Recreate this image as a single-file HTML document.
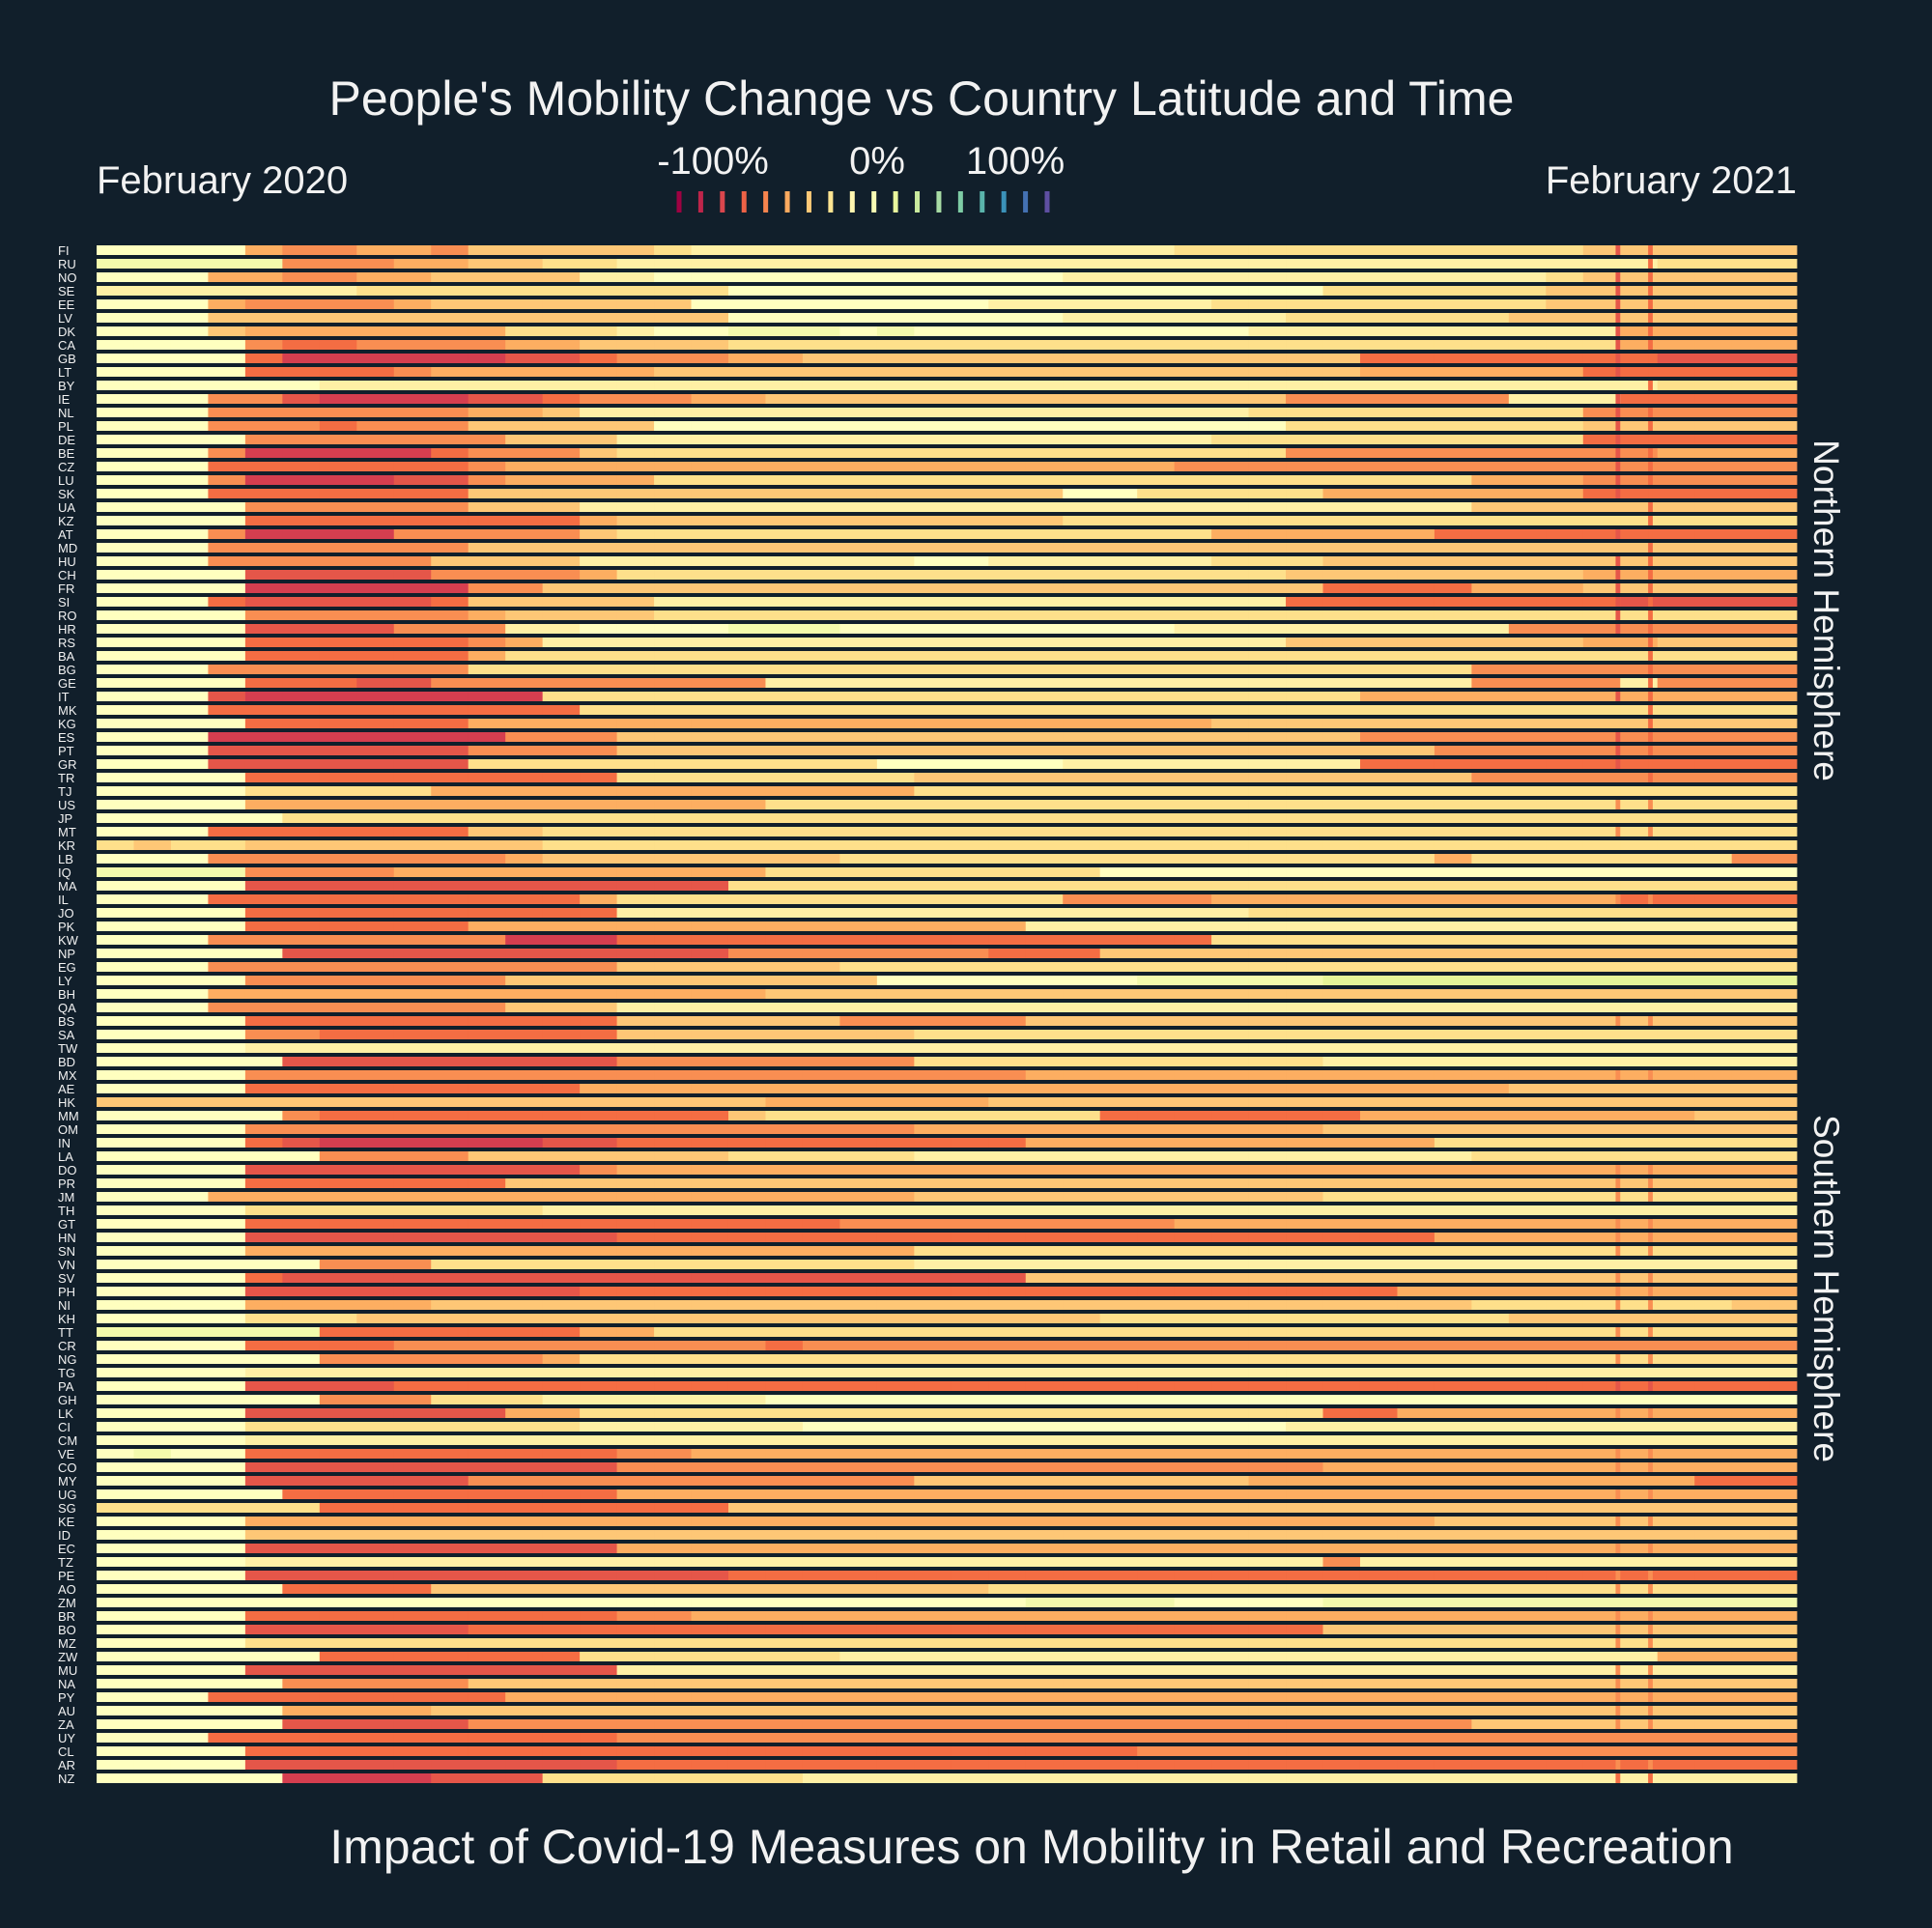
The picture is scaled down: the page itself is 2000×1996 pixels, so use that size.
<!DOCTYPE html>
<html><head><meta charset="utf-8"><style>
html,body{margin:0;padding:0;background:#111f2b;}
svg{display:block;}
text{font-family:"Liberation Sans",Arial,sans-serif;fill:#f2f2f2;}
</style></head><body>
<svg id="chart" width="2000" height="1996" viewBox="0 0 2000 1996" xmlns="http://www.w3.org/2000/svg">
<rect x="0" y="0" width="2000" height="1996" fill="#111f2b"/>
<text x="954" y="119" font-size="50" text-anchor="middle">People's Mobility Change vs Country Latitude and Time</text>
<text x="100" y="200" font-size="40">February 2020</text>
<text x="1860" y="200" font-size="40" text-anchor="end">February 2021</text>
<g id="legend"></g>
<g id="rows"></g>
<g id="labels"></g>
<text transform="translate(1878,632) rotate(90)" font-size="37" text-anchor="middle">Northern Hemisphere</text>
<text transform="translate(1878,1334) rotate(90)" font-size="37" text-anchor="middle">Southern Hemisphere</text>
<text x="1068" y="1929" font-size="50" text-anchor="middle">Impact of Covid-19 Measures on Mobility in Retail and Recreation</text>
</svg>
<script>
// Country codes (north to south)
const countries = ["FI","RU","NO","SE","EE","LV","DK","CA","GB","LT","BY","IE","NL","PL","DE","BE","CZ","LU","SK","UA","KZ","AT","MD","HU","CH","FR","SI","RO","HR","RS","BA","BG","GE","IT","MK","KG","ES","PT","GR","TR","TJ","US","JP","MT","KR","LB","IQ","MA","IL","JO","PK","KW","NP","EG","LY","BH","QA","BS","SA","TW","BD","MX","AE","HK","MM","OM","IN","LA","DO","PR","JM","TH","GT","HN","SN","VN","SV","PH","NI","KH","TT","CR","NG","TG","PA","GH","LK","CI","CM","VE","CO","MY","UG","SG","KE","ID","EC","TZ","PE","AO","ZM","BR","BO","MZ","ZW","MU","NA","PY","AU","ZA","UY","CL","AR","NZ"];
// Mobility change per 8-day bin, code char: '0'=-100% ... 'A'=0% ... 'C'=+20%
const mobility = [
"AAAA65566577"+"777899999999"+"999998888888"+"8888777777",
"BBBBB5556677"+"889999999999"+"999999999999"+"9999998888",
"AAA665566777"+"799AAAAAAAAA"+"AA9999999999"+"9998777777",
"999999988888"+"88888AAAAAAA"+"AAAAAAAAA888"+"8887777777",
"AAA655556777"+"7777AAAAAAAA"+"999999888888"+"8887777777",
"AAA777777777"+"77777AAAAAAA"+"AA9999998888"+"8877777777",
"AAA766666668"+"889AABBBABAA"+"AAAAAAA99999"+"9999966666",
"AAAA54455556"+"677778888888"+"888888888888"+"8888866666",
"AAAA42222223"+"345556677777"+"777777777744"+"4444443333",
"AAAA44445666"+"666777777777"+"777777777766"+"6666444444",
"AAAAAA999999"+"999999999999"+"999999999999"+"9999998888",
"AAA553222233"+"455566777777"+"777777775555"+"5599944444",
"AAA555555566"+"799999999999"+"999999988888"+"8888555555",
"AAA555455577"+"777AAAAAAAAA"+"AAAAAAAA8888"+"8888777777",
"AAAA55555557"+"779999999999"+"999999888888"+"8888444444",
"AAA522222455"+"578888888888"+"888888885555"+"5555556666",
"AAA444444456"+"666666666666"+"666665555555"+"5555555555",
"AAA522223356"+"666888888888"+"888888888888"+"8666555555",
"AAA444444477"+"777777777777"+"77AA88888666"+"6666444444",
"AAAA55555577"+"799999999999"+"999999999999"+"9777777777",
"AAAA44444444"+"467777777777"+"778888888888"+"8888888888",
"AAA522225555"+"578888888888"+"888888666666"+"4444444444",
"AAA555555577"+"777777777777"+"777777777777"+"7777777777",
"AAA555555777"+"7999999999AA"+"999999888777"+"7777777777",
"AAAA33333555"+"568888888888"+"888888887777"+"7777666666",
"AAAA22222255"+"777777777777"+"777777777444"+"4666777777",
"AAA433333477"+"777999999999"+"999999994444"+"4444433333",
"AAAA55555567"+"777888888888"+"888888888888"+"8888888888",
"AAAA33335559"+"9AAAABBBAAAA"+"AAAAA9999999"+"9955555555",
"AAAA44444456"+"999999999999"+"999999997777"+"7777667777",
"AAAA44444468"+"888888888888"+"888888888888"+"8888888888",
"AAA555555588"+"888888888888"+"888888888888"+"8555555555",
"AAAA44433555"+"555555999999"+"999999999999"+"9555595555",
"AAA322222222"+"888888888888"+"888888888866"+"6666666666",
"AAA444444444"+"488888888888"+"888888888888"+"8888888888",
"AAAA44444466"+"666666666666"+"666666777777"+"7777777777",
"AAA222222225"+"557777777777"+"777777777755"+"5555555555",
"AAA333333355"+"557777777777"+"777777777777"+"5555555555",
"AAA333333388"+"888888888AAA"+"AA9999999944"+"4444444444",
"AAAA44444444"+"448888888877"+"777777777777"+"7555555555",
"AAAA88888666"+"666666666688"+"888888888888"+"8888888888",
"AAAA66666666"+"666666888888"+"888888888888"+"8888888888",
"AAAAA8888888"+"888888888888"+"888888888888"+"8888888888",
"AAA444444477"+"888888888888"+"888888888888"+"8888888888",
"878877777777"+"888888888888"+"888888888888"+"8888888888",
"AAA555555556"+"777777778888"+"888888888888"+"6888888855",
"BBBB55556666"+"666666888888"+"888AAAAAAAAA"+"AAAAAAAAAA",
"AAAA33333333"+"333338888888"+"888888888888"+"8888888888",
"AAA444444444"+"468888888888"+"885555666666"+"6666644444",
"AAAA44444444"+"449999999999"+"999999988888"+"8888888888",
"AAAA44444466"+"666666666666"+"699999999999"+"9999999999",
"AAA555555552"+"224444444444"+"444444888888"+"8888888888",
"AAAAA3333333"+"333335555555"+"444777777777"+"7777777777",
"AAA555555555"+"557777778888"+"888888888888"+"8888888888",
"AAAA55555557"+"777777777AAA"+"AAAABBBBBCCC"+"CCCCCCCCCC",
"AAA666666666"+"666666777777"+"777777777777"+"7777777777",
"AAA555555557"+"779999999999"+"999999999999"+"9999999999",
"AAAA44444444"+"447777775555"+"577777777777"+"7777777777",
"AAAA55444444"+"447777777788"+"888888888888"+"8888888888",
"AAAA99999999"+"999999999999"+"999999999999"+"9999999999",
"AAAAA3333333"+"335555555588"+"888888888999"+"9999999999",
"AAAA55555555"+"555555555555"+"566666666666"+"6666666666",
"AAAA44444444"+"466666666666"+"666666666666"+"6677777777",
"777777777777"+"777777666666"+"777777777777"+"7777777777",
"AAAAA5444444"+"444447888888"+"888444444466"+"6666666777",
"AAAA55555555"+"555555555566"+"666666666777"+"7777777777",
"AAAA43222222"+"334444444444"+"466666666666"+"8888888888",
"AAAAAA555577"+"777778888899"+"999999999999"+"9888888888",
"AAAA33333333"+"356666666666"+"666666666666"+"6666666666",
"AAAA44444447"+"777777777777"+"777777777777"+"7777777777",
"AAA666666666"+"666666666677"+"777777777888"+"8888888888",
"AAAA88888888"+"999999999999"+"999999999999"+"9999999999",
"AAAA44444444"+"444444445555"+"555556666666"+"6666666666",
"AAAA33333333"+"334444444444"+"444444444444"+"6666666666",
"AAAA66666666"+"666666666688"+"888888888888"+"8888888888",
"AAAAAA555888"+"888888888899"+"999999999999"+"9999999999",
"AAAA43333333"+"333333333333"+"377777777777"+"7777777777",
"AAAA33333333"+"344444444444"+"444444444446"+"6666666666",
"AAAA66666777"+"777777777777"+"777777777777"+"7888888877",
"AAAA88877777"+"777777777777"+"777888888888"+"8877777777",
"BBBBBB444444"+"466888888888"+"888888888888"+"8888888888",
"AAAA44445555"+"555555455555"+"555555555555"+"5555555555",
"AAAAAA555555"+"688888888888"+"888888888888"+"8888888888",
"AAAA99999999"+"999999999999"+"999999999999"+"9999999999",
"AAAA33334444"+"444444444444"+"444444444444"+"4444444444",
"AAAAAA555888"+"999999AAAAAA"+"AAAAAAAAAAAA"+"AAAAAAAAAA",
"AAAA33333336"+"688888888888"+"888888888446"+"6666666666",
"AAAA88888888"+"8999999AAAAA"+"AAAAAAAA9999"+"9999999999",
"AAAA99999999"+"999999999999"+"999999999999"+"9999999999",
"ABAA44444444"+"445566666666"+"666666666666"+"6666666666",
"AAAA33333333"+"335555555555"+"555555555666"+"6666666666",
"AAAA33333355"+"555555555577"+"777777766666"+"6666666444",
"AAAAA4444444"+"446666666666"+"666666666666"+"6666666666",
"888888444444"+"444447777777"+"777777777777"+"7777777777",
"AAAA66666666"+"666666666666"+"666666666666"+"7777777777",
"AAAA77777777"+"777777777777"+"777777777777"+"7777777777",
"AAAA33333333"+"336666666666"+"666666666666"+"6666666666",
"AAAA99999999"+"999999999999"+"999999999599"+"9999999999",
"AAAA33333333"+"333334444444"+"444444444444"+"4444444444",
"AAAAA4444777"+"777777777777"+"888888888888"+"8888888888",
"AAAAAAAAAAAA"+"AAAAAAAAAAAA"+"ABBBBAAAABBB"+"BBBBBBBBBB",
"AAAA44444444"+"445566666666"+"666666666666"+"6666666666",
"AAAA33333344"+"444444444444"+"444444444777"+"7777777777",
"AAAA88888888"+"888888888888"+"888888888888"+"8888888888",
"AAAAAA444444"+"488888889999"+"999999999999"+"9999996666",
"AAAA33333333"+"339999999999"+"999999999999"+"9999999999",
"AAAAA5555577"+"777777777777"+"777777777777"+"7777777777",
"AAA444444446"+"666666666666"+"666666666666"+"6666666666",
"AAAAA6666777"+"777777777777"+"777777777777"+"7777777777",
"AAAAA3333355"+"555555555555"+"555555555555"+"5777777777",
"AAA444444444"+"445555555555"+"555555555555"+"5555555555",
"AAAA44444444"+"444444444444"+"444455555555"+"5555555555",
"AAAA33333333"+"334444444444"+"444444444444"+"4444444444",
"AAAAA2222333"+"888888899999"+"999999999999"+"9999999999"
];
// Holiday dips (day index) and per-row value at those days ('.' = no dip)
const holidayDays = [327, 334];
const holidayA = "3.33333333"+".33333333."+".3.333333."+"...3..333."+".5.5....5."+".......5.."+".5......55"+"5.555.555."+"555.3.5..5"+"5.5.5.5.55"+".555.55555"+"5554";
const holidayB = "4444444444"+"4444444444"+"4444444444"+"4444444444"+".5.5....5."+".......5.."+".5......55"+"5.555.555."+"555.3.5..5"+"5.5.5.5.55"+".555.55555"+"5554";
const legendLabels = ["-100%","0%","100%"];
const legendLabelX = [738,908,1051];

const CODES = "0123456789ABC";
const NDAYS = 366, BIN = 8, NBINS = 46;
const X0 = 100, X1 = 1860, Y0 = 254, PITCH = 14, RH = 10;
function xDay(d){ return X0 + d*(X1-X0)/NDAYS; }
function yRow(i){ return Y0 + i*PITCH; }
function codeVal(c){ return -100 + 10*CODES.indexOf(c); }
const stops = ["#9e0142","#d53e4f","#f46d43","#fdae61","#fee08b","#ffffbf","#e6f598","#abdda4","#66c2a5","#3288bd","#5e4fa2"];
function hex(h){return [1,3,5].map(k=>parseInt(h.substr(k,2),16));}
function color(v){
  let t=(v+100)/200*(stops.length-1); t=Math.max(0,Math.min(stops.length-1,t));
  const i=Math.min(Math.floor(t),stops.length-2), f=t-i;
  const a=hex(stops[i]), b=hex(stops[i+1]);
  return "rgb("+a.map((q,k)=>Math.round(q+(b[k]-q)*f)).join(",")+")";
}
const NS="http://www.w3.org/2000/svg";
function mk(tag,attrs,parent){const e=document.createElementNS(NS,tag);for(const k in attrs)e.setAttribute(k,attrs[k]);parent.appendChild(e);return e;}

// legend
const lg=document.getElementById("legend");
const nTicks=18, lx0=703, lx1=1084;
function lx(v){return lx0+(v+100)/200*(lx1-lx0);}
for(let k=0;k<nTicks;k++){
  const v=-100+200*k/(nTicks-1);
  const r=mk("rect",{x:lx(v)-2.5,y:198,width:5,height:22,fill:color(v)},lg);
  
  
}
legendLabels.forEach((s,k)=>{
  const t=mk("text",{x:legendLabelX[k],y:180,"font-size":40,"text-anchor":"middle"},lg);
  t.textContent=s;
  
  
});

// heatmap
const rowsG=document.getElementById("rows"), labG=document.getElementById("labels");
countries.forEach((c,i)=>{
  const g=mk("g",{},rowsG);
  
  
  let s=mobility[i]||"";
  while(s.length<NBINS) s+=s[s.length-1]||"A";
  for(let b=0;b<NBINS;b++){
    const d0=b*BIN, d1=Math.min(NDAYS,d0+BIN);
    const xa=xDay(d0), xb=xDay(d1);
    const r=mk("rect",{x:xa.toFixed(2),y:yRow(i),width:(xb-xa+0.4).toFixed(2),height:RH,fill:color(codeVal(s[b]))},g);
    
    
  }
  [holidayA,holidayB].forEach((h,k)=>{
    const ch=h[i];
    if(ch && ch!=="."){
      const d=holidayDays[k];
      const r=mk("rect",{x:xDay(d).toFixed(2),y:yRow(i),width:(xDay(d+1)-xDay(d)).toFixed(2),height:RH,fill:color(codeVal(ch))},g);
      
      
    }
  });
  const t=mk("text",{x:60,y:yRow(i)+10,"font-size":13},labG);
  t.textContent=c;
  
  
});
</script>
</body></html>
